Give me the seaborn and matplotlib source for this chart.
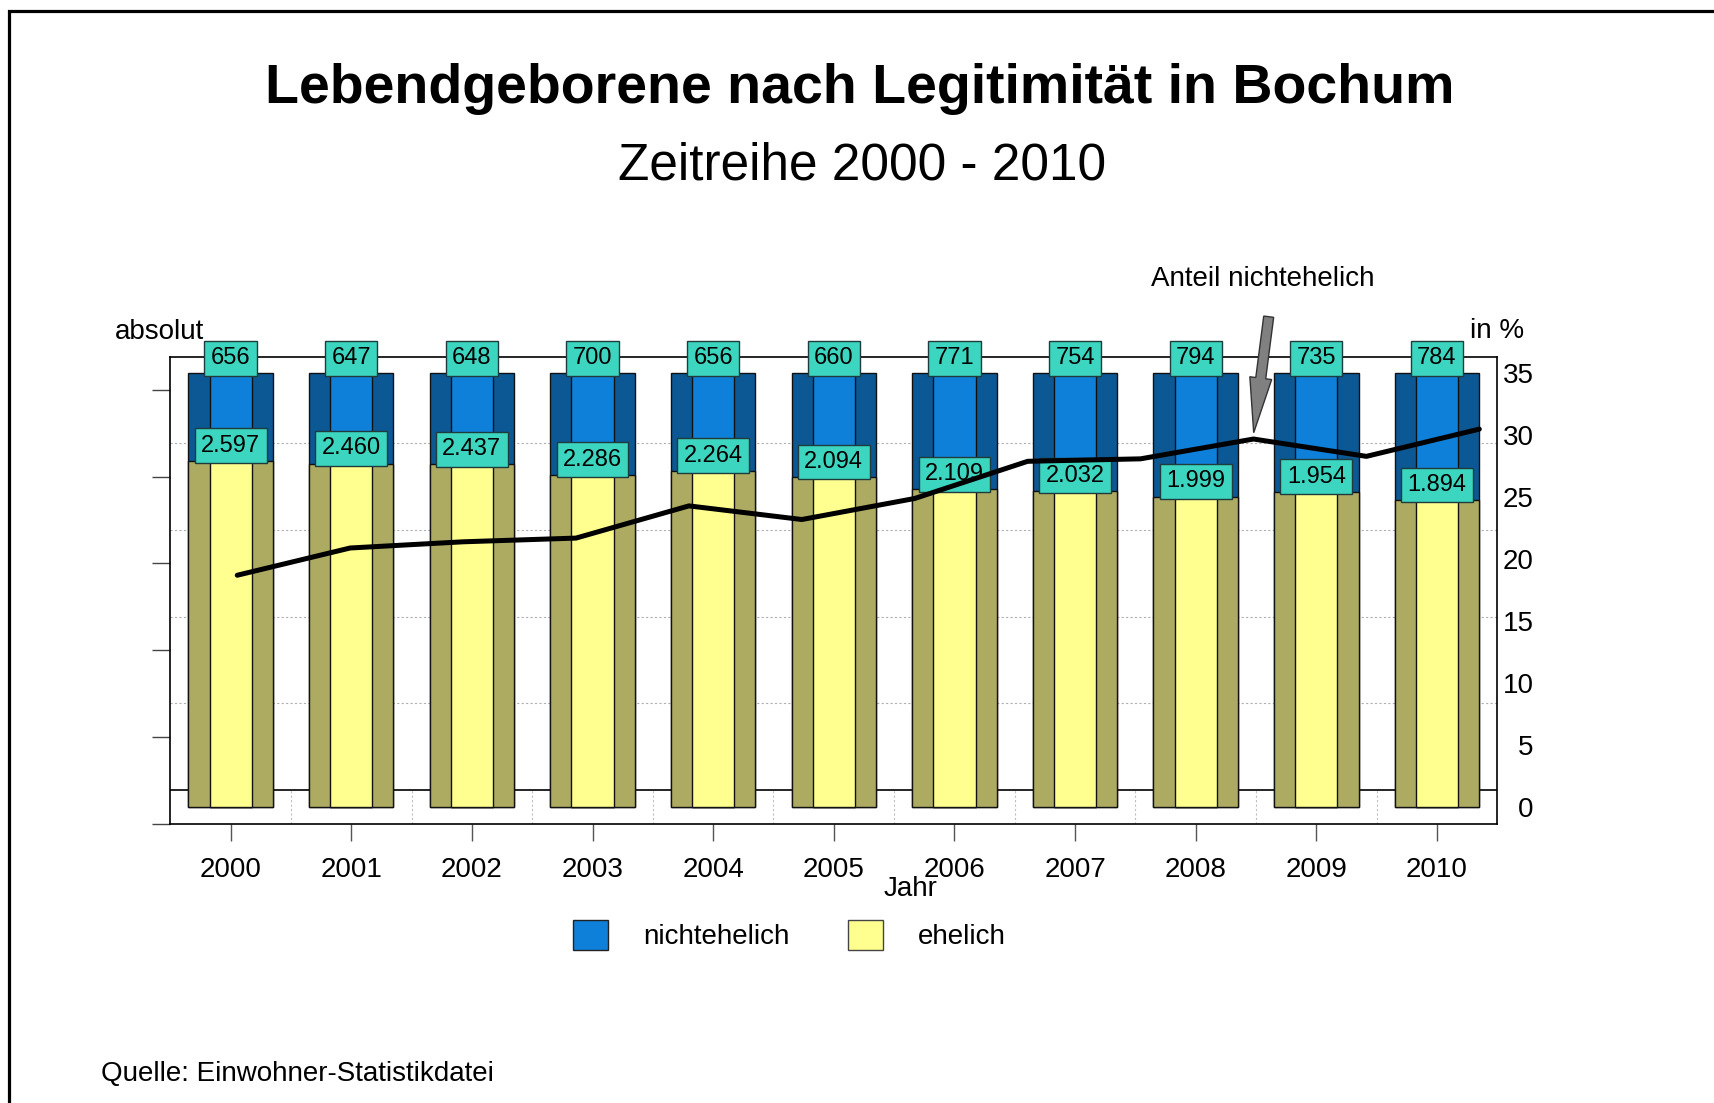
import matplotlib
matplotlib.use('Agg')
from matplotlib import pyplot as plt
from matplotlib.patches import Patch, Rectangle, FancyArrow
import seaborn as sns
import numpy as np
import pandas as pd

# Daten
jahre = ['2000', '2001', '2002', '2003', '2004', '2005', '2006', '2007', '2008', '2009', '2010']
nichtehelich = [656, 647, 648, 700, 656, 660, 771, 754, 794, 735, 784]
ehelich = [2597, 2460, 2437, 2286, 2264, 2094, 2109, 2032, 1999, 1954, 1894]
# Linie "Anteil nichtehelich" in %, 12 Stuetzpunkte wie im Bild
anteil_linie = [18.7, 20.9, 21.4, 21.7, 24.3, 23.2, 24.9, 27.9, 28.1, 29.7, 28.3, 30.5]
rechts_ticks = [0, 5, 10, 15, 20, 25, 30, 35]

df = pd.DataFrame({'jahr': jahre, 'nicht': nichtehelich, 'ehe': ehelich})
df['summe'] = df['nicht'] + df['ehe']
df['ehe_pct'] = df['ehe'] / df['summe'] * 100
df['gesamt_pct'] = 100.0

def de_format(v):
    return f'{v:,}'.replace(',', '.')

sns.set_style('white')
plt.rcParams['font.family'] = ['Liberation Sans', 'DejaVu Sans']
plt.rcParams['text.color'] = 'black'
plt.rcParams['axes.labelcolor'] = 'black'
plt.rcParams['xtick.color'] = 'black'
plt.rcParams['ytick.color'] = 'black'

W, H = 1715, 1103
fig = plt.figure(figsize=(W / 100, H / 100), dpi=100)

# Rahmen (nur oben/links sichtbar)
fig.add_artist(Rectangle((9.5 / W, -0.5), 2, 0.5 + 1 - 11 / H, transform=fig.transFigure,
                         fill=False, ec='black', lw=2.3))

TIEFE = 7.7        # Tiefe des Bodens in %-Einheiten (pseudo-3D)
RECHTS_MAX = 35    # rechter Achsenwert bei Balkenoberkante

ax = fig.add_axes([170.3 / W, 1 - 823.5 / H, 1327 / W, 466.8 / H])

# Rueckwand-Gitter und Boden
ax.hlines([TIEFE / 2 + 20 * k for k in range(1, 5)], -0.5, 10.5, colors='#b0b0b0',
          linestyles=(0, (2, 2)), lw=0.8, zorder=1)
ax.axhline(TIEFE / 2, color='black', lw=1.2, zorder=1)
ax.vlines(np.arange(10) + 0.5, -TIEFE / 2, TIEFE / 2, colors='#c0c0c0',
          linestyles=(0, (2, 2)), lw=0.8, zorder=1)

# Balken: Seitenflaechen dunkel, Mittelflaeche hell
sns.barplot(data=df, x='jahr', y='gesamt_pct', color='#0B5895', width=0.70, saturation=1,
            edgecolor='#111111', linewidth=1, ax=ax, zorder=3)
sns.barplot(data=df, x='jahr', y='gesamt_pct', color='#0F80DA', width=0.35, saturation=1,
            edgecolor='#111111', linewidth=1, ax=ax, zorder=3)
sns.barplot(data=df, x='jahr', y='ehe_pct', color='#ADAA62', width=0.70, saturation=1,
            edgecolor='#111111', linewidth=1, ax=ax, zorder=3)
sns.barplot(data=df, x='jahr', y='ehe_pct', color='#FFFF8F', width=0.35, saturation=1,
            edgecolor='#111111', linewidth=1, ax=ax, zorder=3)

box = dict(boxstyle='square,pad=0.27', fc='#3CD6C0', ec='#1f3b3b', lw=1)
for i, row in df.iterrows():
    ax.annotate(de_format(row['nicht']), xy=(i, row['gesamt_pct']), xytext=(0, 3),
                textcoords='offset points', ha='center', va='bottom', fontsize=17,
                bbox=box, zorder=5, annotation_clip=False)
    ax.annotate(de_format(row['ehe']), xy=(i, row['ehe_pct']), xytext=(0, 3),
                textcoords='offset points', ha='center', va='bottom', fontsize=17,
                bbox=box, zorder=5, annotation_clip=False)

ax.set_xlim(-0.5, 10.5)
ax.set_ylim(-TIEFE / 2, 100 + TIEFE / 2)
ax.set_xlabel('')
ax.set_ylabel('')
ax.set_yticks([-TIEFE / 2 + 20 * k for k in range(6)])
ax.set_yticklabels([])
ax.tick_params(axis='y', direction='out', length=13, width=1, color='#444444', left=True)
ax.tick_params(axis='x', direction='out', length=12, width=1, color='#555555',
               labelsize=20, pad=12, bottom=True)
for s in ax.spines.values():
    s.set_visible(True)
    s.set_color('black')
    s.set_linewidth(1.2)

# rechte Achse in %
ax2 = ax.twinx()
ax2_lim = (-TIEFE / 2 * RECHTS_MAX / 100, (100 + TIEFE / 2) * RECHTS_MAX / 100)
ax2.set_yticks(rechts_ticks)
ax2.tick_params(axis='y', length=0, pad=26, labelsize=20, right=True)
for t in ax2.get_yticklabels():
    t.set_horizontalalignment('right')
for s in ax2.spines.values():
    s.set_visible(False)

# Linie auf eigener x-Skala (12 Punkte)
ax3 = ax2.twiny()
sns.lineplot(x=list(range(len(anteil_linie))), y=anteil_linie, ax=ax3, color='black', lw=3.6)
p0, schritt = 0.055, 0.936
ax3.set_xlim((-0.5 - p0) / schritt, (10.5 - p0) / schritt)
ax3.xaxis.set_visible(False)
for s in ax3.spines.values():
    s.set_visible(False)
ax2.set_ylim(*ax2_lim)
ax3.set_ylim(*ax2_lim)

# Texte
fig.text(860 / W, 1 - 103 / H, 'Lebendgeborene nach Legitimität in Bochum', ha='center',
         va='baseline', fontsize=40, fontweight='bold')
fig.text(862 / W, 1 - 180 / H, 'Zeitreihe 2000 - 2010', ha='center', va='baseline', fontsize=37)
fig.text(115 / W, 1 - 332 / H, 'absolut', ha='left', va='center', fontsize=20)
fig.text(1470 / W, 1 - 331 / H, 'in %', ha='left', va='center', fontsize=20)
fig.text(1263 / W, 1 - 279 / H, 'Anteil nichtehelich', ha='center', va='center', fontsize=20)
fig.text(911 / W, 1 - 889 / H, 'Jahr', ha='center', va='center', fontsize=20)
fig.text(100.6 / W, 1 - 1074 / H, 'Quelle: Einwohner-Statistikdatei', ha='left', va='center',
         fontsize=20)

# Pfeil zur Linie
fig.add_artist(FancyArrow(12.687, (H - 316.7) / 100, -0.15, -1.16, width=0.10, head_width=0.22,
                          head_length=0.55, length_includes_head=True, fc='#808080', ec='#333333',
                          lw=1, transform=fig.dpi_scale_trans))

# Legende
handles = [Patch(fc='#0F80DA', ec='#222222', label='nichtehelich'),
           Patch(fc='#FFFF8F', ec='#444444', label='ehelich')]
fig.legend(handles=handles, loc='center left', bbox_to_anchor=(573 / W, 1 - 935 / H), ncol=2,
           frameon=False, fontsize=20, handlelength=1.26, handleheight=1.3, handletextpad=1.26,
           columnspacing=2.1, borderpad=0, borderaxespad=0)

fig.savefig('out.png', dpi=100)
